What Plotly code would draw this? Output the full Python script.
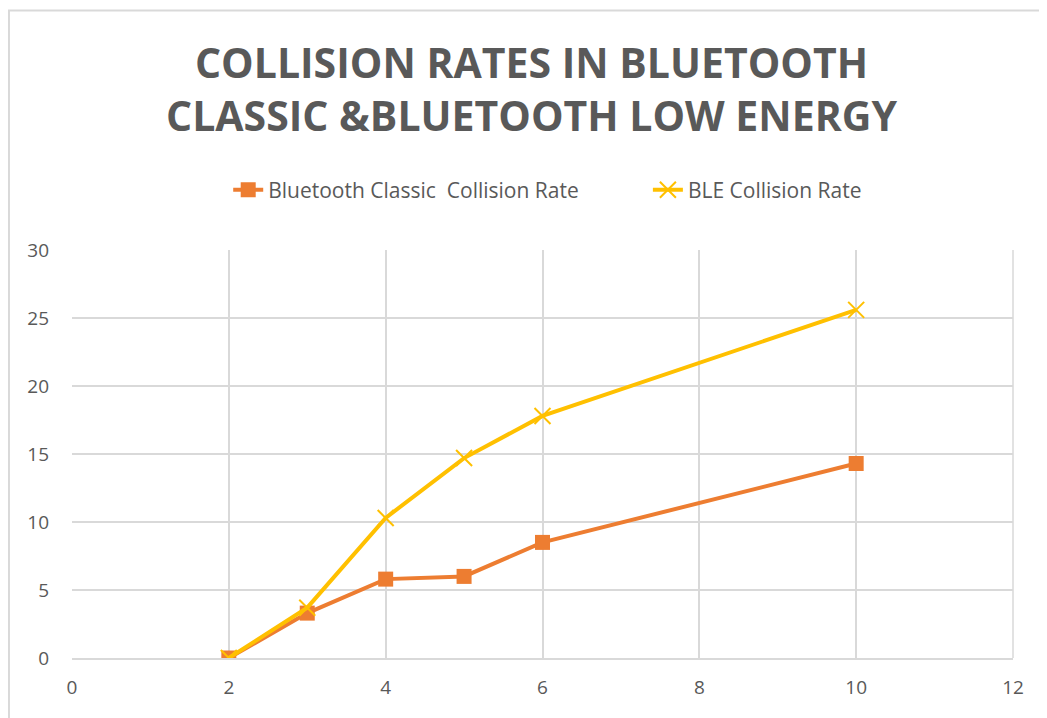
import plotly.graph_objects as go

x_vals = [2, 3, 4, 5, 6, 10]
classic_rate = [0, 3.3, 5.8, 6.0, 8.5, 14.3]
ble_rate = [0, 3.7, 10.3, 14.7, 17.8, 25.6]
series_names = ["Bluetooth Classic  Collision Rate", "BLE Collision Rate"]
title_lines = ["COLLISION RATES IN BLUETOOTH", "CLASSIC &BLUETOOTH LOW ENERGY"]

TXT = "#595959"
GRID = "#d9d9d9"

fig = go.Figure()
fig.add_trace(go.Scatter(
    x=x_vals, y=classic_rate, name=series_names[0], mode="lines+markers",
    line=dict(color="#ED7D31", width=4),
    marker=dict(symbol="square", size=15, color="#ED7D31"),
    legend="legend",
))
fig.add_trace(go.Scatter(
    x=x_vals, y=ble_rate, name=series_names[1], mode="lines+markers",
    line=dict(color="#FFC000", width=4),
    marker=dict(symbol="x-thin", size=16, color="#FFC000",
                line=dict(color="#FFC000", width=2)),
    legend="legend2",
))

leg_common = dict(
    orientation="h", xanchor="left", y=1.147, yanchor="middle",
    font=dict(size=21, color=TXT), bgcolor="rgba(0,0,0,0)",
)

fig.update_layout(
    width=1047, height=718,
    margin=dict(l=64, r=42, t=242, b=68),
    paper_bgcolor="white", plot_bgcolor="white",
    font=dict(family="Open Sans", color=TXT),
    title=dict(
        text="<b>" + title_lines[0] + "<br>" + title_lines[1] + "</b>",
        x=0.5, xanchor="center", y=0.9025, yanchor="middle",
        font=dict(family="Open Sans", size=41, color=TXT),
    ),
    legend=dict(x=0.166, **leg_common),
    legend2=dict(x=0.612, **leg_common),
    showlegend=True,
)
fig.update_xaxes(
    range=[0, 12], dtick=2, tick0=0, showgrid=True, gridcolor=GRID, gridwidth=1.5,
    zeroline=False, showline=True, linecolor=GRID, linewidth=1.5, mirror=False,
    tickfont=dict(size=19, color=TXT), ticks="", ticklabelstandoff=11,
)
fig.update_yaxes(
    range=[0, 30], dtick=5, tick0=0, showgrid=True, gridcolor=GRID, gridwidth=1.5,
    zeroline=False, showline=False,
    tickfont=dict(size=19, color=TXT), ticks="", ticklabelstandoff=22,
)
# right border line of the plot area
fig.add_shape(type="line", xref="paper", yref="paper", x0=1, x1=1, y0=0, y1=1,
              line=dict(color=GRID, width=1.5))
# outer chart frame (partially cropped in the reference)
fig.add_shape(type="rect", xref="paper", yref="paper",
              x0=-0.067, x1=1.1, y0=-0.3, y1=1.587,
              line=dict(color=GRID, width=2), layer="below")

fig.write_html("out.html")
